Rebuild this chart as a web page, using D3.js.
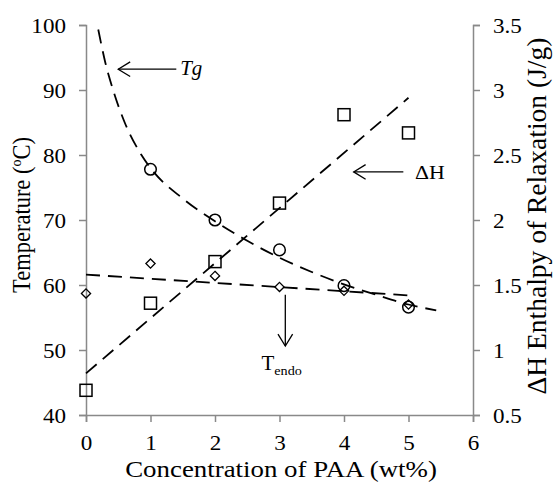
<!DOCTYPE html>
<html>
<head>
<meta charset="utf-8">
<script src="https://cdn.jsdelivr.net/npm/d3@7"></script>
<style>
  body { margin: 0; background: #fff; }
  text { font-family: "Liberation Serif", "Times New Roman", Times, "DejaVu Serif", serif; fill: #000; }
</style>
</head>
<body>
<div class="chart"></div>
<script>
// values
const conc = [0, 1, 2, 3, 4, 5];
const tgPoints = [null, 77.8, 70.0, 65.4, 59.9, 56.6];      // circles, left axis
const tendoPoints = [58.7, 63.3, 61.4, 59.7, 59.1, 57.0];    // diamonds, left axis
const dhPoints = [0.69, 1.36, 1.68, 2.13, 2.81, 2.67];       // squares, right axis

// dashed trend lines
const tgTrendX = [0.19, 0.3, 0.42, 0.6, 0.86, 1, 1.5, 2, 2.5, 3, 3.5, 4, 4.5, 5, 5.43];
const tgTrendY = [99.3, 94.2, 90.0, 85.0, 80.0, 78.0, 73.3, 69.8, 66.8, 64.2, 62.0, 60.1, 58.5, 57.0, 56.1];
const tendoTrendX = [0, 5];
const tendoTrendY = [61.6, 58.4];
const dhTrendX = [0, 5];
const dhTrendY = [0.82, 2.94];

const xTicks = [0, 1, 2, 3, 4, 5, 6];
const leftTicks = [40, 50, 60, 70, 80, 90, 100];
const rightTicks = [0.5, 1, 1.5, 2, 2.5, 3, 3.5];

const margin = { top: 25, right: 81, bottom: 69, left: 86 };
const width = 554 - margin.left - margin.right;
const height = 484 - margin.top - margin.bottom;

const svg = d3.select('.chart')
  .append('svg')
  .attr('width', 554)
  .attr('height', 484);

const g = svg.append('g')
  .attr('transform', `translate(${margin.left}, ${margin.top})`);

const xScale = d3.scaleLinear().domain([0, 6]).range([0, width]);
const yLeft = d3.scaleLinear().domain([40, 100]).range([height, 0]);
const yRight = d3.scaleLinear().domain([0.5, 3.5]).range([height, 0]);

const axisColor = '#898989';

// the reference text is a little wider than plain Times, so stretch it sideways
function widen(sel, sx) {
  sel.each(function () {
    const t = d3.select(this);
    const x = +t.attr('x') || 0;
    const y = +t.attr('y') || 0;
    t.attr('x', 0).attr('y', 0).attr('transform', `translate(${x}, ${y}) scale(${sx}, 1)`);
  });
}

function styleAxis(sel) {
  sel.attr('font-family', null);
  sel.selectAll('path, line').attr('stroke', axisColor).attr('stroke-width', 1.5);
  sel.selectAll('text').style('font-size', '21px').attr('fill', '#000');
}

g.append('g')
  .call(d3.axisLeft(yLeft).tickValues(leftTicks).tickSize(7).tickPadding(13).tickFormat(d3.format('d')))
  .call(styleAxis)
  .selectAll('text').attr('dy', '0.34em').call(widen, 1.1);

g.append('g')
  .attr('transform', `translate(${width}, 0)`)
  .call(d3.axisRight(yRight).tickValues(rightTicks).tickSize(7).tickPadding(13).tickFormat(d => String(d)))
  .call(styleAxis)
  .selectAll('text').attr('dy', '0.34em').call(widen, 1.1);

g.append('g')
  .attr('transform', `translate(0, ${height})`)
  .call(d3.axisBottom(xScale).tickValues(xTicks).tickSize(7).tickPadding(12).tickFormat(d3.format('d')))
  .call(styleAxis)
  .selectAll('text').attr('y', 35).attr('dy', 0).call(widen, 1.1);

// trend lines
const dash = '14,8';
const lineLeft = d3.line().x(d => xScale(d[0])).y(d => yLeft(d[1]));
const lineRight = d3.line().x(d => xScale(d[0])).y(d => yRight(d[1]));

g.append('path')
  .datum(d3.zip(tgTrendX, tgTrendY))
  .attr('d', d3.line().x(d => xScale(d[0])).y(d => yLeft(d[1])).curve(d3.curveMonotoneX))
  .attr('fill', 'none').attr('stroke', '#000').attr('stroke-width', 1.8).attr('stroke-dasharray', dash);

g.append('path')
  .datum(d3.zip(tendoTrendX, tendoTrendY))
  .attr('d', lineLeft)
  .attr('fill', 'none').attr('stroke', '#000').attr('stroke-width', 1.8).attr('stroke-dasharray', dash);

g.append('path')
  .datum(d3.zip(dhTrendX, dhTrendY))
  .attr('d', lineRight)
  .attr('fill', 'none').attr('stroke', '#000').attr('stroke-width', 1.8).attr('stroke-dasharray', dash);

// markers
g.selectAll('.tg')
  .data(d3.zip(conc, tgPoints).filter(d => d[1] != null))
  .join('circle')
  .attr('cx', d => xScale(d[0]))
  .attr('cy', d => yLeft(d[1]))
  .attr('r', 5.8)
  .attr('fill', 'none').attr('stroke', '#000').attr('stroke-width', 1.5);

g.selectAll('.tendo')
  .data(d3.zip(conc, tendoPoints))
  .join('path')
  .attr('transform', d => `translate(${xScale(d[0])}, ${yLeft(d[1])})`)
  .attr('d', 'M0,-4.6L4.6,0L0,4.6L-4.6,0Z')
  .attr('fill', 'none').attr('stroke', '#000').attr('stroke-width', 1.3);

g.selectAll('.dh')
  .data(d3.zip(conc, dhPoints))
  .join('rect')
  .attr('x', d => xScale(d[0]) - 6)
  .attr('y', d => yRight(d[1]) - 6)
  .attr('width', 12).attr('height', 12)
  .attr('fill', 'none').attr('stroke', '#000').attr('stroke-width', 1.5);

// annotations with arrows
function arrow(x1, y1, x2, y2) {
  g.append('line')
    .attr('x1', x1).attr('y1', y1).attr('x2', x2).attr('y2', y2)
    .attr('stroke', '#000').attr('stroke-width', 1.3);
  const a = Math.atan2(y2 - y1, x2 - x1);
  const L = 14, w = 0.55;
  g.append('path')
    .attr('d', `M${x2 - L * Math.cos(a - w)},${y2 - L * Math.sin(a - w)}L${x2},${y2}L${x2 - L * Math.cos(a + w)},${y2 - L * Math.sin(a + w)}`)
    .attr('fill', 'none').attr('stroke', '#000').attr('stroke-width', 1.3);
}

arrow(xScale(1.4), yLeft(93.2), xScale(0.5), yLeft(93.2));
g.append('text')
  .attr('x', xScale(1.46)).attr('y', yLeft(93.2) + 6)
  .style('font-size', '20px').style('font-style', 'italic')
  .text('Tg')
  .call(widen, 1.05);

arrow(xScale(4.92), yRight(2.37), xScale(4.15), yRight(2.37));
g.append('text')
  .attr('x', xScale(5.1)).attr('y', yRight(2.37) + 7)
  .style('font-size', '19px')
  .text('ΔH')
  .call(widen, 1.15);

arrow(xScale(3.09), yLeft(58.5), xScale(3.09), yLeft(50.6));
const tEndo = g.append('text')
  .attr('x', xScale(2.72)).attr('y', yLeft(46.9))
  .style('font-size', '20px');
tEndo.append('tspan').text('T');
tEndo.append('tspan').attr('dy', 5).style('font-size', '13.5px').text('endo');
tEndo.call(widen, 1.05);

// axis titles
svg.append('text')
  .attr('text-anchor', 'middle')
  .attr('x', 281).attr('y', 477)
  .style('font-size', '24px')
  .text('Concentration of PAA (wt%)')
  .call(widen, 1.12);

const leftTitle = svg.append('text')
  .attr('text-anchor', 'middle')
  .attr('transform', `translate(30, 215) rotate(-90) scale(1, 1.1)`)
  .style('font-size', '22.5px');
leftTitle.append('tspan').text('Temperature (');
leftTitle.append('tspan').attr('dy', -8).style('font-size', '14px').text('o');
leftTitle.append('tspan').attr('dy', 8).text('C)');

svg.append('text')
  .attr('text-anchor', 'middle')
  .attr('transform', `translate(546, 216) rotate(-90)`)
  .style('font-size', '27.5px')
  .text('ΔH Enthalpy of Relaxation (J/g)');
</script>
</body>
</html>
